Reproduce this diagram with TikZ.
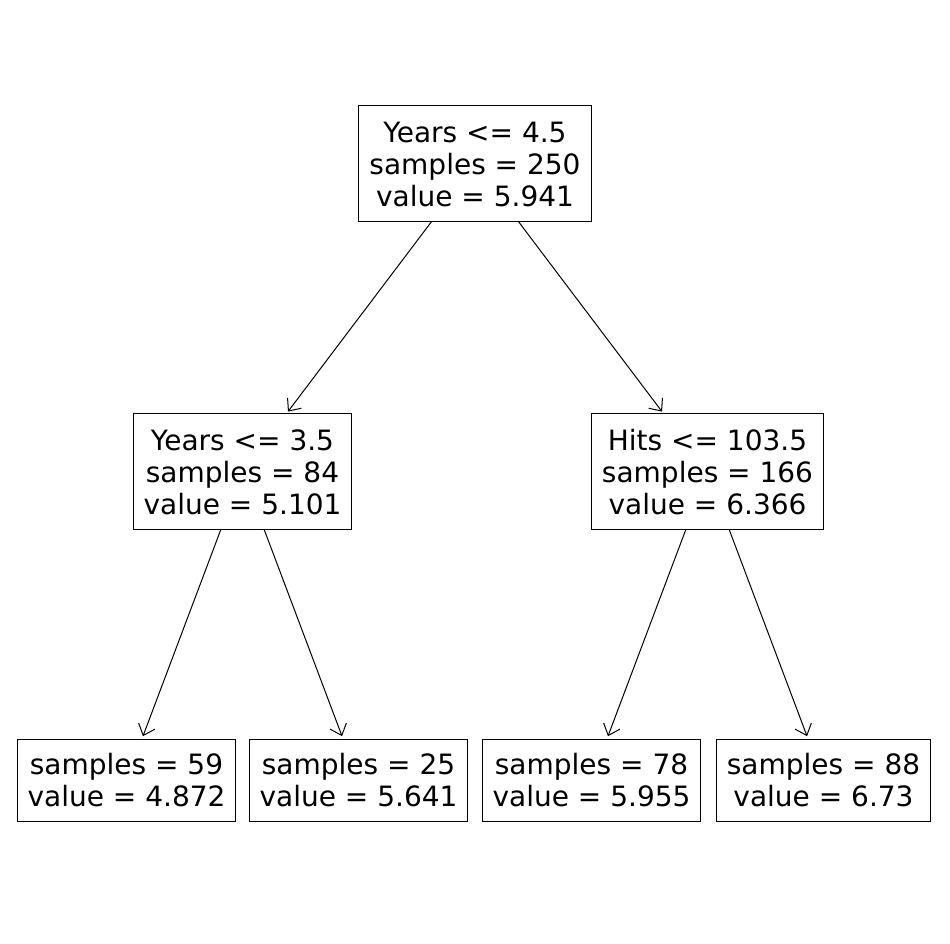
\documentclass[tikz,border=0pt]{standalone}
\usepackage{fontspec}
\setmainfont{DejaVu Sans}
\usetikzlibrary{arrows.meta}
\tikzset{
  treebox/.style={draw, line width=0.75pt, inner xsep=7.9pt, inner ysep=0pt,
    outer sep=0pt, align=center, font=\fontsize{21}{24}\selectfont},
  splitbox/.style={treebox, minimum height=87pt},
  leafbox/.style={treebox, minimum height=61.5pt},
  edge/.style={line width=0.75pt, shorten >=2.25pt,
    -{Straight Barb[length=7.5pt, width=13pt, line width=0.75pt]}}
}
\begin{document}
\begin{tikzpicture}[x=0.75pt, y=-0.75pt]
  \useasboundingbox (0,0) rectangle (950,944);
  % Root
  \node[splitbox] (root) at (475,164) {Years <= 4.5\\samples = 250\\value = 5.941};
  % Second level
  \node[splitbox] (years) at (242.5,472) {Years <= 3.5\\samples = 84\\value = 5.101};
  \node[splitbox] (hits) at (707.5,472) {Hits <= 103.5\\samples = 166\\value = 6.366};
  % Leaves
  \node[leafbox] (leafa) at (126.5,780) {samples = 59\\value = 4.872};
  \node[leafbox] (leafb) at (358.5,780) {samples = 25\\value = 5.641};
  \node[leafbox] (leafc) at (591.5,780) {samples = 78\\value = 5.955};
  \node[leafbox] (leafd) at (823.5,780) {samples = 88\\value = 6.73};
  % Edges
  \draw[edge] (root) -- (years);
  \draw[edge] (root) -- (hits);
  \draw[edge] (years) -- (leafa);
  \draw[edge] (years) -- (leafb);
  \draw[edge] (hits) -- (leafc);
  \draw[edge] (hits) -- (leafd);
\end{tikzpicture}
\end{document}
